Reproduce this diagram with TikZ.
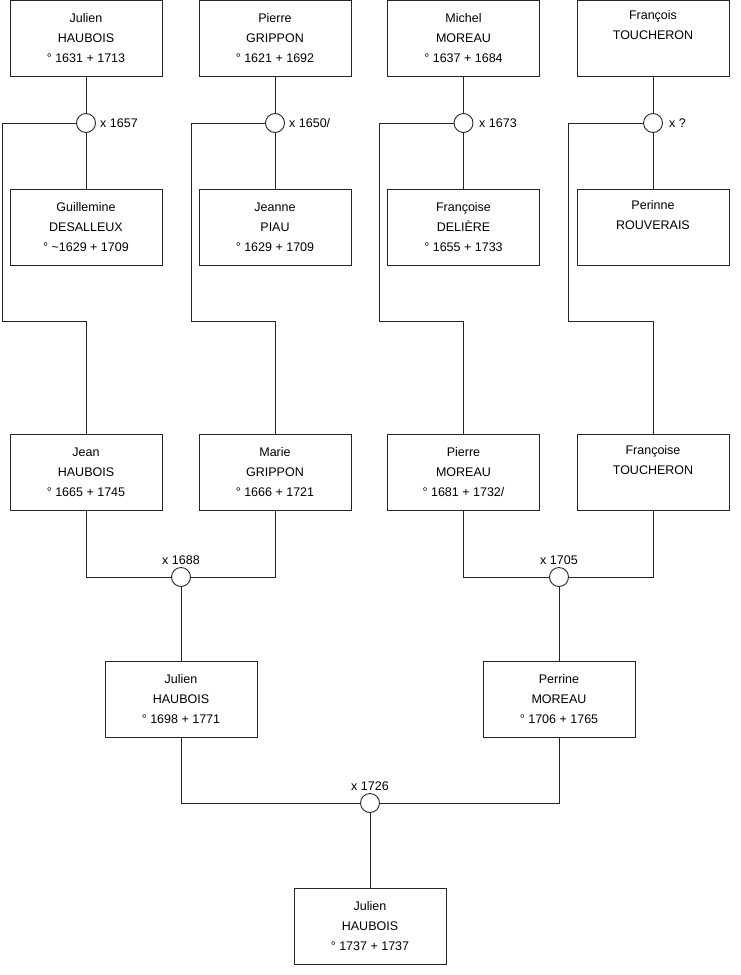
\documentclass[tikz,border=0pt]{standalone}
\usepackage{fontspec}
\setmainfont{Liberation Sans}
\begin{document}
\begin{tikzpicture}[x=1pt,y=-1pt,
  person/.style={draw=black!85, line width=0.9pt, minimum width=152pt, minimum height=76pt, inner sep=0pt, align=center, font=\fontsize{12.5}{20}\selectfont, fill=white},
  wed/.style={circle, draw=black!85, line width=0.9pt, minimum size=19pt, inner sep=0pt, fill=white},
  lbl/.style={font=\fontsize{12.5}{15}\selectfont, inner sep=0pt},
  link/.style={draw=black!85, line width=0.9pt}]
\useasboundingbox (0,0) rectangle (740,975);
% generation 1
\node[person] (a1) at (86,38) {Julien\\HAUBOIS\\° 1631 + 1713};
\node[person] (a2) at (275,38) {Pierre\\GRIPPON\\° 1621 + 1692};
\node[person] (a3) at (463.5,38) {Michel\\MOREAU\\° 1637 + 1684};
\node[person] (a4) at (653,38) {François\\TOUCHERON\\\strut};
% marriages 1
\node[wed] (m1) at (86,123) {};
\node[wed] (m2) at (275,123) {};
\node[wed] (m3) at (463.5,123) {};
\node[wed] (m4) at (653,123) {};
\node[lbl, anchor=west] (l1) at (100,123) {x 1657};
\node[lbl, anchor=west] (l2) at (289,123) {x 1650/};
\node[lbl, anchor=west] (l3) at (479,123) {x 1673};
\node[lbl, anchor=west] (l4) at (669,123) {x ?};
% spouses
\node[person] (s1) at (86,227.5) {Guillemine\\DESALLEUX\\° \textasciitilde1629 + 1709};
\node[person] (s2) at (275,227.5) {Jeanne\\PIAU\\° 1629 + 1709};
\node[person] (s3) at (463.5,227.5) {Françoise\\DELIÈRE\\° 1655 + 1733};
\node[person] (s4) at (653,227.5) {Perinne\\ROUVERAIS\\\strut};
% generation 2
\node[person] (b1) at (86,472.5) {Jean\\HAUBOIS\\° 1665 + 1745};
\node[person] (b2) at (275,472.5) {Marie\\GRIPPON\\° 1666 + 1721};
\node[person] (b3) at (463.5,472.5) {Pierre\\MOREAU\\° 1681 + 1732/};
\node[person] (b4) at (653,472.5) {Françoise\\TOUCHERON\\\strut};
% marriages 2
\node[wed] (m5) at (181,577) {};
\node[wed] (m6) at (559,577) {};
\node[lbl, anchor=south] (l5) at (181,565) {x 1688};
\node[lbl, anchor=south] (l6) at (559,565) {x 1705};
% generation 3
\node[person] (c1) at (181,699.5) {Julien\\HAUBOIS\\° 1698 + 1771};
\node[person] (c2) at (559,699.5) {Perrine\\MOREAU\\° 1706 + 1765};
\node[wed] (m7) at (370,803) {};
\node[lbl, anchor=south] (l7) at (370,791) {x 1726};
\node[person] (d1) at (370,926) {Julien\\HAUBOIS\\° 1737 + 1737};
% corner coordinates
\coordinate (k1a) at (2,123);   \coordinate (k1b) at (2,321);   \coordinate (k1c) at (86,321);
\coordinate (k2a) at (191,123); \coordinate (k2b) at (191,321); \coordinate (k2c) at (275,321);
\coordinate (k3a) at (379,123); \coordinate (k3b) at (379,321); \coordinate (k3c) at (463.5,321);
\coordinate (k4a) at (568,123); \coordinate (k4b) at (568,321); \coordinate (k4c) at (653,321);
\coordinate (j1) at (86,577);  \coordinate (j2) at (275,577);
\coordinate (j3) at (463.5,577); \coordinate (j4) at (653,577);
\coordinate (j5) at (181,803); \coordinate (j6) at (559,803);
% links
\begin{scope}[on background layer/.style={}]
\foreach \i in {1,2,3,4}{
  \draw[link] (a\i.south) -- (m\i.north);
  \draw[link] (m\i.south) -- (s\i.north);
  \draw[link] (m\i.west) -- (k\i a) -- (k\i b) -- (k\i c) -- (b\i.north);
}
\draw[link] (b1.south) -- (j1) -- (m5.west);
\draw[link] (b2.south) -- (j2) -- (m5.east);
\draw[link] (m5.south) -- (c1.north);
\draw[link] (b3.south) -- (j3) -- (m6.west);
\draw[link] (b4.south) -- (j4) -- (m6.east);
\draw[link] (m6.south) -- (c2.north);
\draw[link] (c1.south) -- (j5) -- (m7.west);
\draw[link] (c2.south) -- (j6) -- (m7.east);
\draw[link] (m7.south) -- (d1.north);
\end{scope}
\end{tikzpicture}
\end{document}
